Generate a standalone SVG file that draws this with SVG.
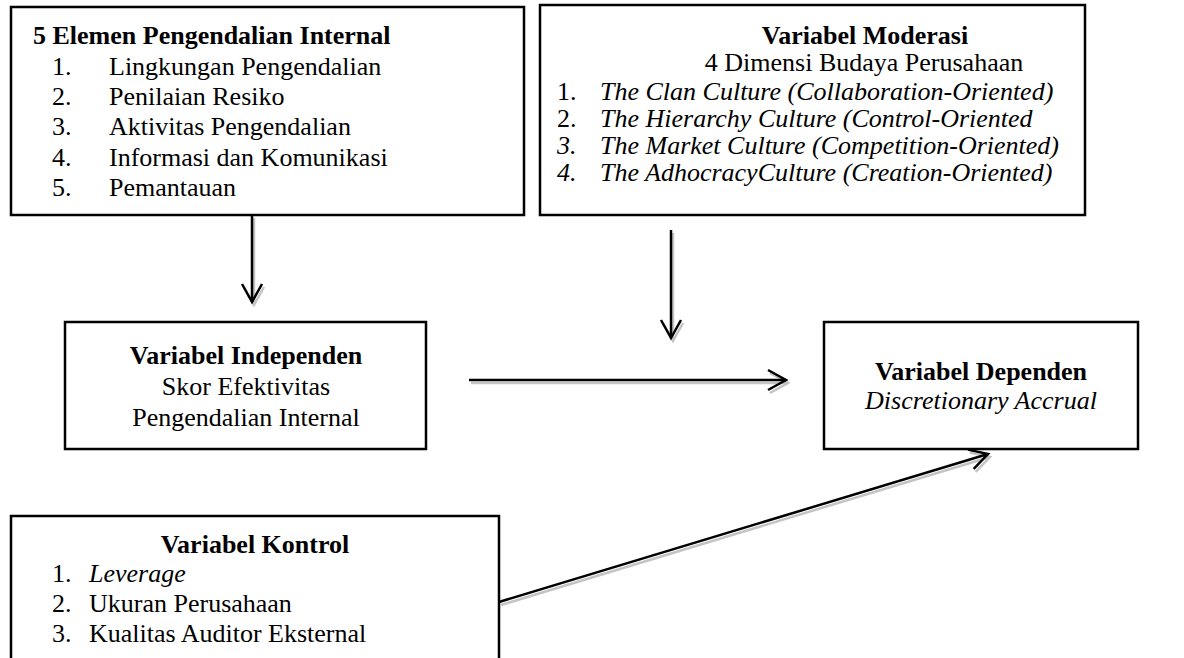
<svg xmlns="http://www.w3.org/2000/svg" width="1184" height="658" viewBox="0 0 1184 658">
<style>
.box{fill:#fff;stroke:#000;stroke-width:2.5}
text{font-family:"Liberation Serif","Times New Roman",serif;font-size:26px;fill:#000}
.b{font-weight:bold}
.i{font-style:italic}
.c{text-anchor:middle}
.ln{stroke:#000;stroke-width:2.5;fill:none}
.sh{stroke:#c4c4c4;stroke-width:2.5;fill:none}
</style>
<defs>
<marker id="ah" markerUnits="userSpaceOnUse" markerWidth="24" markerHeight="24" viewBox="0 0 24 24" refX="21" refY="12" orient="auto"><path d="M3,2 L21,12 L3,22" fill="none" stroke="#000" stroke-width="2.5"/></marker>
<marker id="ahs" markerUnits="userSpaceOnUse" markerWidth="24" markerHeight="24" viewBox="0 0 24 24" refX="21" refY="12" orient="auto"><path d="M3,2 L21,12 L3,22" fill="none" stroke="#c4c4c4" stroke-width="2.5"/></marker>
</defs>
<rect width="1184" height="658" fill="#fff"/>
<g id="connectors">
<line class="sh" x1="254" y1="218" x2="254" y2="305" marker-end="url(#ahs)"/>
<line class="ln" x1="252" y1="215" x2="252" y2="302" marker-end="url(#ah)"/>
<line class="sh" x1="673" y1="233" x2="673" y2="341" marker-end="url(#ahs)"/>
<line class="ln" x1="671" y1="230" x2="671" y2="338" marker-end="url(#ah)"/>
<line class="sh" x1="471" y1="383" x2="788" y2="383" marker-end="url(#ahs)"/>
<line class="ln" x1="469" y1="380" x2="786" y2="380" marker-end="url(#ah)"/>
<line class="sh" x1="501" y1="605" x2="990" y2="457" marker-end="url(#ahs)"/>
<line class="ln" x1="499" y1="602" x2="988" y2="454" marker-end="url(#ah)"/>
</g>
<g id="elemen">
<rect class="box" x="11" y="7" width="513" height="208"/>
<text class="b" x="33" y="44">5 Elemen Pengendalian Internal</text>
<text x="52" y="75">1.</text><text x="109" y="75">Lingkungan Pengendalian</text>
<text x="52" y="105">2.</text><text x="109" y="105">Penilaian Resiko</text>
<text x="52" y="135">3.</text><text x="109" y="135">Aktivitas Pengendalian</text>
<text x="52" y="166">4.</text><text x="109" y="166">Informasi dan Komunikasi</text>
<text x="52" y="196">5.</text><text x="109" y="196">Pemantauan</text>
</g>
<g id="moderasi">
<rect class="box" x="540" y="5" width="545" height="210"/>
<text class="b c" x="865" y="44">Variabel Moderasi</text>
<text class="c" x="864" y="71">4 Dimensi Budaya Perusahaan</text>
<text x="557" y="100">1.</text><text class="i" x="600" y="100">The Clan Culture (Collaboration-Oriented)</text>
<text x="557" y="127">2.</text><text class="i" x="600" y="127">The Hierarchy Culture (Control-Oriented</text>
<text class="i" x="557" y="154">3.</text><text class="i" x="600" y="154">The Market Culture (Competition-Oriented)</text>
<text class="i" x="557" y="181">4.</text><text class="i" x="600" y="181">The AdhocracyCulture (Creation-Oriented)</text>
</g>
<g id="independen">
<rect class="box" x="65" y="322" width="361" height="127"/>
<text class="b c" x="246" y="364">Variabel Independen</text>
<text class="c" x="246" y="395">Skor Efektivitas</text>
<text class="c" x="246" y="426">Pengendalian Internal</text>
</g>
<g id="dependen">
<rect class="box" x="824" y="322" width="314" height="127"/>
<text class="b c" x="981" y="380">Variabel Dependen</text>
<text class="i c" x="981" y="409">Discretionary Accrual</text>
</g>
<g id="kontrol">
<rect class="box" x="11" y="516" width="488" height="170"/>
<text class="b c" x="255" y="553">Variabel Kontrol</text>
<text x="52" y="582">1.</text><text class="i" x="89" y="582">Leverage</text>
<text x="52" y="612">2.</text><text x="89" y="612">Ukuran Perusahaan</text>
<text x="52" y="642">3.</text><text x="89" y="642">Kualitas Auditor Eksternal</text>
</g>
</svg>
